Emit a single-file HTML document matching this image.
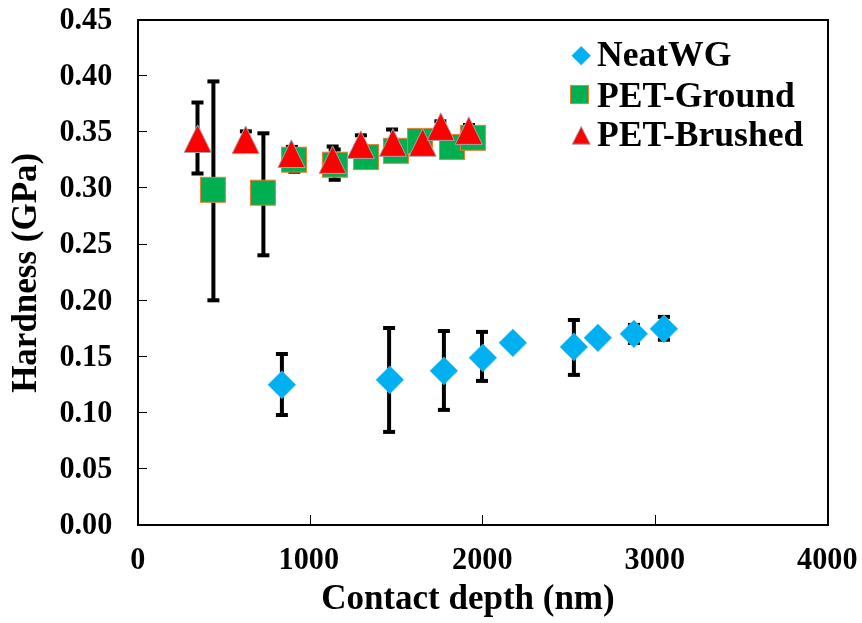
<!DOCTYPE html>
<html><head><meta charset="utf-8"><title>Hardness vs Contact depth</title>
<style>
html,body{margin:0;padding:0;background:#fff;}
body{width:862px;height:623px;overflow:hidden;font-family:"Liberation Serif",serif;}
svg{display:block;will-change:transform;}
</style></head><body>
<svg width="862" height="623" viewBox="0 0 862 623" font-family="Liberation Serif, serif" font-weight="bold" fill="#000"><g stroke="#000" stroke-width="4" fill="none"><line x1="281.9" y1="354.0" x2="281.9" y2="415.0"/><line x1="275.9" y1="354.0" x2="287.9" y2="354.0"/><line x1="275.9" y1="415.0" x2="287.9" y2="415.0"/><line x1="389.1" y1="328.0" x2="389.1" y2="431.9"/><line x1="383.1" y1="328.0" x2="395.1" y2="328.0"/><line x1="383.1" y1="431.9" x2="395.1" y2="431.9"/><line x1="443.9" y1="331.0" x2="443.9" y2="409.9"/><line x1="437.9" y1="331.0" x2="449.9" y2="331.0"/><line x1="437.9" y1="409.9" x2="449.9" y2="409.9"/><line x1="482.0" y1="331.9" x2="482.0" y2="380.9"/><line x1="476.0" y1="331.9" x2="488.0" y2="331.9"/><line x1="476.0" y1="380.9" x2="488.0" y2="380.9"/><line x1="573.9" y1="320.0" x2="573.9" y2="374.9"/><line x1="567.9" y1="320.0" x2="579.9" y2="320.0"/><line x1="567.9" y1="374.9" x2="579.9" y2="374.9"/><line x1="633.9" y1="324.9" x2="633.9" y2="342.9"/><line x1="627.9" y1="324.9" x2="639.9" y2="324.9"/><line x1="627.9" y1="342.9" x2="639.9" y2="342.9"/><line x1="663.9" y1="316.9" x2="663.9" y2="339.7"/><line x1="657.9" y1="316.9" x2="669.9" y2="316.9"/><line x1="657.9" y1="339.7" x2="669.9" y2="339.7"/><line x1="213.4" y1="81.4" x2="213.4" y2="300.3"/><line x1="207.4" y1="81.4" x2="219.4" y2="81.4"/><line x1="207.4" y1="300.3" x2="219.4" y2="300.3"/><line x1="263.4" y1="133.3" x2="263.4" y2="255.3"/><line x1="257.4" y1="133.3" x2="269.4" y2="133.3"/><line x1="257.4" y1="255.3" x2="269.4" y2="255.3"/><line x1="294.4" y1="149.2" x2="294.4" y2="171.7"/><line x1="288.4" y1="149.2" x2="300.4" y2="149.2"/><line x1="288.4" y1="171.7" x2="300.4" y2="171.7"/><line x1="334.7" y1="149.5" x2="334.7" y2="179.8"/><line x1="328.7" y1="149.5" x2="340.7" y2="149.5"/><line x1="328.7" y1="179.8" x2="340.7" y2="179.8"/><line x1="197.5" y1="102.5" x2="197.5" y2="173.5"/><line x1="191.5" y1="102.5" x2="203.5" y2="102.5"/><line x1="191.5" y1="173.5" x2="203.5" y2="173.5"/><line x1="245.9" y1="131.35" x2="245.9" y2="148.15"/><line x1="239.9" y1="131.35" x2="251.9" y2="131.35"/><line x1="239.9" y1="148.15" x2="251.9" y2="148.15"/><line x1="291.9" y1="146.9" x2="291.9" y2="160.4"/><line x1="285.9" y1="146.9" x2="297.9" y2="146.9"/><line x1="285.9" y1="160.4" x2="297.9" y2="160.4"/><line x1="332.65" y1="146.5" x2="332.65" y2="172.7"/><line x1="326.65" y1="146.5" x2="338.65" y2="146.5"/><line x1="326.65" y1="172.7" x2="338.65" y2="172.7"/><line x1="360.9" y1="135.3" x2="360.9" y2="153.9"/><line x1="354.9" y1="135.3" x2="366.9" y2="135.3"/><line x1="354.9" y1="153.9" x2="366.9" y2="153.9"/><line x1="392.05" y1="129.5" x2="392.05" y2="155.5"/><line x1="386.05" y1="129.5" x2="398.05" y2="129.5"/><line x1="386.05" y1="155.5" x2="398.05" y2="155.5"/><line x1="440.35" y1="121.3" x2="440.35" y2="131.9"/><line x1="434.35" y1="121.3" x2="446.35" y2="121.3"/><line x1="434.35" y1="131.9" x2="446.35" y2="131.9"/><line x1="469.0" y1="125.0" x2="469.0" y2="136.2"/><line x1="463.0" y1="125.0" x2="475.0" y2="125.0"/><line x1="463.0" y1="136.2" x2="475.0" y2="136.2"/></g><g fill="#00B0F0" stroke="#5CC4EE" stroke-width="0.6"><path d="M281.9 370.8L295.8 384.8L281.9 398.7L267.9 384.8Z"/><path d="M389.9 365.9L403.8 379.8L389.9 393.8L375.9 379.8Z"/><path d="M443.9 356.9L457.8 370.8L443.9 384.8L429.9 370.8Z"/><path d="M482.9 343.9L496.8 357.8L482.9 371.8L468.9 357.8Z"/><path d="M512.9 328.9L526.8 342.8L512.9 356.8L498.9 342.8Z"/><path d="M573.9 332.9L587.8 346.9L573.9 360.8L559.9 346.9Z"/><path d="M597.9 323.9L611.8 337.8L597.9 351.8L583.9 337.8Z"/><path d="M633.9 319.9L647.8 333.8L633.9 347.8L619.9 333.8Z"/><path d="M663.9 314.9L677.8 328.8L663.9 342.8L649.9 328.8Z"/></g><g fill="#00B050" stroke="#ED7D31" stroke-width="1"><rect x="200.4" y="177.3" width="25.0" height="25.0"/><rect x="250.4" y="180.2" width="25.0" height="25.0"/><rect x="281.5" y="147.2" width="25.0" height="25.0"/><rect x="322.4" y="152.2" width="25.0" height="25.0"/><rect x="353.6" y="144.6" width="25.0" height="25.0"/><rect x="383.4" y="138.3" width="25.0" height="25.0"/><rect x="407.6" y="128.4" width="25.0" height="25.0"/><rect x="439.5" y="134.4" width="25.0" height="25.0"/><rect x="460.4" y="125.3" width="25.0" height="25.0"/></g><g fill="#FF0000" stroke="#A5A5A5" stroke-width="1"><path d="M197.7 124.9L211.2 152.5L184.1 152.5Z"/><path d="M245.7 126.0L259.2 153.6L232.1 153.6Z"/><path d="M291.4 139.8L305.0 167.5L277.9 167.5Z"/><path d="M332.6 145.8L346.2 173.4L319.1 173.4Z"/><path d="M360.8 130.8L374.3 158.4L347.2 158.4Z"/><path d="M392.9 128.7L406.4 156.3L379.3 156.3Z"/><path d="M422.7 128.7L436.2 156.3L409.1 156.3Z"/><path d="M440.8 112.8L454.4 140.4L427.2 140.4Z"/><path d="M468.8 116.8L482.4 144.4L455.2 144.4Z"/></g><rect x="138" y="20" width="690" height="505" fill="none" stroke="#000" stroke-width="2"/><g stroke="#000" stroke-width="1"><line x1="139" y1="468.5" x2="147" y2="468.5"/><line x1="139" y1="412.5" x2="147" y2="412.5"/><line x1="139" y1="356.5" x2="147" y2="356.5"/><line x1="139" y1="300.5" x2="147" y2="300.5"/><line x1="139" y1="244.5" x2="147" y2="244.5"/><line x1="139" y1="187.5" x2="147" y2="187.5"/><line x1="139" y1="131.5" x2="147" y2="131.5"/><line x1="139" y1="75.5" x2="147" y2="75.5"/><line x1="310.5" y1="515" x2="310.5" y2="524"/><line x1="482.5" y1="515" x2="482.5" y2="524"/><line x1="655.5" y1="515" x2="655.5" y2="524"/></g><g font-size="30.2"><text transform="translate(112.3 534.1) scale(1 1.03)" text-anchor="end">0.00</text><text transform="translate(112.3 478.0) scale(1 1.03)" text-anchor="end">0.05</text><text transform="translate(112.3 421.9) scale(1 1.03)" text-anchor="end">0.10</text><text transform="translate(112.3 365.7) scale(1 1.03)" text-anchor="end">0.15</text><text transform="translate(112.3 309.6) scale(1 1.03)" text-anchor="end">0.20</text><text transform="translate(112.3 253.4) scale(1 1.03)" text-anchor="end">0.25</text><text transform="translate(112.3 197.3) scale(1 1.03)" text-anchor="end">0.30</text><text transform="translate(112.3 141.2) scale(1 1.03)" text-anchor="end">0.35</text><text transform="translate(112.3 85.0) scale(1 1.03)" text-anchor="end">0.40</text><text transform="translate(112.3 28.9) scale(1 1.03)" text-anchor="end">0.45</text><text transform="translate(137.9 568.8) scale(1 1.03)" text-anchor="middle">0</text><text transform="translate(308.8 568.8) scale(1 1.03)" text-anchor="middle">1000</text><text transform="translate(482.3 568.8) scale(1 1.03)" text-anchor="middle">2000</text><text transform="translate(654.8 568.8) scale(1 1.03)" text-anchor="middle">3000</text><text transform="translate(827.3 568.8) scale(1 1.03)" text-anchor="middle">4000</text></g><text transform="translate(467.9 608.8) scale(1 1.02)" text-anchor="middle" font-size="35.0">Contact depth (nm)</text><text transform="translate(35.6 272.8) rotate(-90) scale(1 1.02)" text-anchor="middle" font-size="35.0">Hardness (GPa)</text><path d="M581.2 46.2L590.7 55.7L581.2 65.2L571.7 55.7Z" fill="#00B0F0" stroke="#5CC4EE" stroke-width="0.6"/><rect x="570.5" y="85.5" width="18" height="18" fill="#00B050" stroke="#ED7D31" stroke-width="1"/><path d="M581.2 126.5L590.3 144.2L572.2 144.2Z" fill="#FF0000" stroke="#A5A5A5" stroke-width="1"/><g font-size="35.6"><text x="597" y="65.8">NeatWG</text><text x="597" y="106.6">PET-Ground</text><text x="597" y="146.4">PET-Brushed</text></g></svg>
</body></html>
